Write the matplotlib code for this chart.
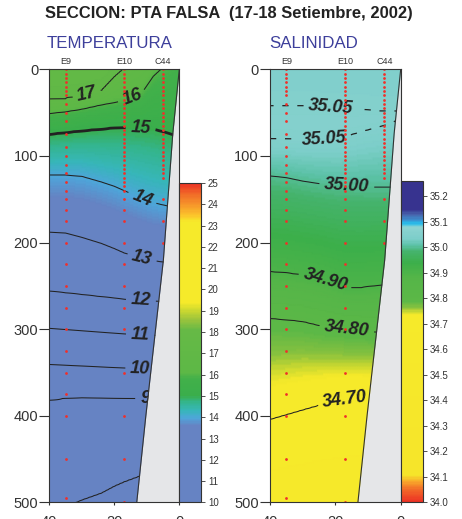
import numpy as np
import matplotlib.pyplot as plt
from matplotlib.colors import LinearSegmentedColormap

plt.rcParams['font.family'] = ['Liberation Sans', 'DejaVu Sans']

# distance from coast (km) of the columns where isoline depths were read
x_cols = [0, 4, 8, 12, 17, 20, 24, 30, 35, 40]

# temperature: depth (m) of each isotherm at every column (negative = above surface)
temp_levels = [18, 17, 16, 15, 14, 13, 12, 11, 10, 9, 8, 7]
temp_depths = [
    [-120, -120, -120, -120, -120, -120, -120, -120, -120, -120],
    [-60, -50, -35, -20, -1, 9, 25, 31, 34, 35],
    [-18, -6, 8, 30, 36, 38.5, 41, 46, 49, 51],
    [78, 73, 69, 67.5, 67, 67.5, 69, 71, 73, 75],
    [160, 157.5, 154, 148, 140, 135, 130, 123.5, 122, 122],
    [225, 223, 221, 218, 212, 207, 201, 194, 189, 188],
    [268, 268, 267.6, 267, 265.5, 264, 262.5, 260, 258, 256],
    [308, 307.5, 307, 306.5, 305.4, 304.6, 303.5, 301.8, 300.4, 299],
    [347, 346.5, 346, 345.5, 344.8, 344.3, 343.6, 342.5, 341.6, 340.7],
    [380, 380, 380, 380, 379.8, 379.5, 379, 378.6, 379.5, 382],
    [460, 463, 466, 469, 476, 481, 489, 497, 505, 513],
    [700, 700, 700, 700, 700, 700, 700, 700, 700, 700],
]

# salinity: depth (m) of each isohaline at every column
sal_levels = [35.04, 35.05, 35.056, 35.05, 35.00, 34.90, 34.80, 34.70, 34.60]
sal_depths = [
    [-60, -60, -60, -60, -60, -60, -60, -60, -60, -60],
    [49, 48.5, 48, 47, 45.5, 44.5, 43, 42, 42, 42],
    [53, 56, 58, 59.5, 62, 62, 62, 61.5, 61, 61],
    [57, 63.5, 68, 72, 78, 79.5, 80.5, 81, 80.5, 80],
    [136, 136, 136, 135.5, 135, 134, 132.5, 129, 125, 123],
    [248, 249, 250, 252, 252, 248, 242, 237.5, 235, 233.6],
    [304, 304, 303, 302, 300, 298.5, 296.5, 291, 289, 287.5],
    [380, 380, 380, 380, 381, 383, 386.5, 393, 398.5, 404],
    [600, 600, 600, 600, 600, 600, 600, 600, 600, 600],
]

temp_lines = [8, 9, 10, 11, 12, 13, 14, 15, 16, 17]
temp_label_pos = [(28.5, 28), (14.4, 33), (11.9, 68), (11.3, 148), (11.5, 218),
                  (11.8, 266), (12, 306), (12, 346), (10.5, 381)]

sal_lines = [34.70, 34.80, 34.90, 35.00, 35.05]
sal_label_pos = [(21.3, 43), (23.5, 80), (16.5, 135), (23, 243), (16.5, 300), (17, 383)]

# stations and sampling depths
stations = ['E9', 'E10', 'C44']
station_x = [35, 17, 5]
e9_depths = [0, 5, 10, 15, 20, 25, 30, 40, 50, 60, 75, 90, 100, 110, 120, 130, 140,
             150, 162, 175, 200, 225, 250, 275, 300, 325, 350, 375, 400, 450, 495]
e10_depths = list(range(0, 145, 5)) + [150, 162, 175, 200, 225, 250, 275, 300, 350,
                                       400, 450, 500]
c44_depths = list(range(0, 130, 5)) + [150, 175, 200]
station_depths = [e9_depths, e10_depths, c44_depths]

# shelf slope (km, m)
bathy_x = [0, 2, 4.9, 10.3, 13.1]
bathy_d = [0, 74, 220, 400, 500]

temp_colors = [(10, '#6683c3'), (13.6, '#6683c3'), (13.95, '#4ea6da'), (14.3, '#37b6b9'),
               (14.7, '#34b58c'), (15.0, '#3aae4b'), (15.8, '#42b04a'), (16.1, '#5db846'),
               (18.1, '#66b946'), (18.6, '#9cc43c'), (19.1, '#d4dc2e'), (19.4, '#f6ea2a'),
               (23.2, '#f6ea2a'), (23.5, '#fbc42b'), (24.0, '#f6952a'), (24.5, '#f16a28'),
               (25, '#ec3124')]
sal_colors = [(34.00, '#ec3124'), (34.05, '#f26c28'), (34.08, '#f8a82a'), (34.105, '#f6e52a'),
              (34.735, '#f6ea2a'), (34.75, '#c6d731'), (34.765, '#86c13f'), (34.79, '#5cb847'),
              (34.88, '#55b548'), (34.94, '#3caf4a'), (34.985, '#45b36c'), (35.01, '#5cc2a8'),
              (35.035, '#7ccec9'), (35.08, '#8dd3d2'), (35.095, '#28bdea'), (35.11, '#3c8ccd'),
              (35.13, '#4865ad'), (35.15, '#37338f'), (35.26, '#37338f')]


def make_cmap(nodes):
    lo, hi = nodes[0][0], nodes[-1][0]
    return LinearSegmentedColormap.from_list('c', [((v - lo) / (hi - lo), c) for v, c in nodes])


def build_field(levels, depths, xg, dg):
    out = np.zeros((len(dg), len(xg)))
    for j, x in enumerate(xg):
        dcol = [np.interp(x, x_cols, row) for row in depths]
        out[:, j] = np.interp(dg, dcol, levels)
    return out


xg = np.linspace(0, 40, 201)
dg = np.linspace(0, 500, 251)
temp = build_field(temp_levels, temp_depths, xg, dg)
sal = build_field(sal_levels, sal_depths, xg, dg)

fig = plt.figure(figsize=(4.62, 5.19), dpi=100)
ax1 = fig.add_axes([0.1067, 0.0318, 0.2814, 0.8347])
cax1 = fig.add_axes([0.388, 0.0318, 0.047, 0.6156])
ax2 = fig.add_axes([0.5844, 0.0318, 0.2829, 0.8347])
cax2 = fig.add_axes([0.8673, 0.0318, 0.0476, 0.6195])

line_col = '#222222'


def panel(ax, cax, field, nodes, lines, widths, styles, label_pos, fmt, cticks, cfmt):
    ax.set_xlim(40, 0)
    ax.set_ylim(500, 0)
    mesh = ax.pcolormesh(xg, dg, field, cmap=make_cmap(nodes), vmin=nodes[0][0],
                         vmax=nodes[-1][0], shading='gouraud', zorder=0)
    cs = ax.contour(xg, dg, field, levels=lines, colors=line_col, linewidths=widths,
                    linestyles=styles, zorder=2)
    with plt.rc_context({'font.weight': 'bold', 'font.style': 'italic'}):
        cs.clabel(manual=label_pos, inline=True, inline_spacing=5,
                  fmt=fmt, fontsize=13, colors=line_col)
    for name, x, ds in zip(stations, station_x, station_depths):
        ax.plot([x] * len(ds), ds, ls='none', marker='o', ms=2, mew=0,
                color='#f0302a', zorder=4)
        ax.text(x, 1.008, name, transform=ax.get_xaxis_transform(), ha='center',
                va='bottom', fontsize=6.5, color='#333333')
    ax.fill_betweenx(bathy_d, bathy_x, 0, color='#e5e6e8', lw=0, zorder=5)
    ax.plot(bathy_x, bathy_d, color='#333333', lw=0.8, zorder=6)
    for s in ax.spines.values():
        s.set_linewidth(0.8)
        s.set_color('#333333')
        s.set_zorder(7)
    ax.set_yticks([0, 100, 200, 300, 400, 500])
    ax.set_xticks([40, 20, 0])
    ax.tick_params(axis='y', direction='out', length=7, width=0.8, pad=1,
                   labelsize=10.5, labelcolor='#333333', color='#333333')
    ax.tick_params(axis='x', direction='out', length=2.5, width=0.8, pad=6.5,
                   labelsize=10.5, labelcolor='#333333', color='#333333')
    cb = fig.colorbar(mesh, cax=cax, ticks=cticks, format=cfmt)
    cb.outline.set_linewidth(0.8)
    cb.outline.set_edgecolor('#333333')
    cax.tick_params(direction='out', length=3, width=0.6, pad=2, labelsize=7,
                    labelcolor='#333333', color='#333333')


panel(ax1, cax1, temp, temp_colors, temp_lines,
      [2.0 if v == 15 else 0.75 for v in temp_lines], 'solid',
      temp_label_pos, '%d', list(range(10, 26)), '%d')
panel(ax2, cax2, sal, sal_colors, sal_lines, [0.75, 0.75, 0.75, 0.75, 0.9],
      ['solid', 'solid', 'solid', 'solid', (0, (5, 7))],
      sal_label_pos, '%.2f', list(np.arange(34.0, 35.25, 0.1)), '%.1f')

fig.text(0.496, 1 - 13.8 / 519, 'SECCION: PTA FALSA  (17-18 Setiembre, 2002)',
         ha='center', va='center', fontsize=11.9, fontweight='bold', color='#222222')
fig.text(47 / 462, 1 - 44 / 519, 'TEMPERATURA', ha='left', va='center',
         fontsize=12.2, color='#3d3f9b')
fig.text(269 / 462, 1 - 44 / 519, 'SALINIDAD', ha='left', va='center',
         fontsize=12.2, color='#3d3f9b')

fig.savefig('out.png', dpi=100)
